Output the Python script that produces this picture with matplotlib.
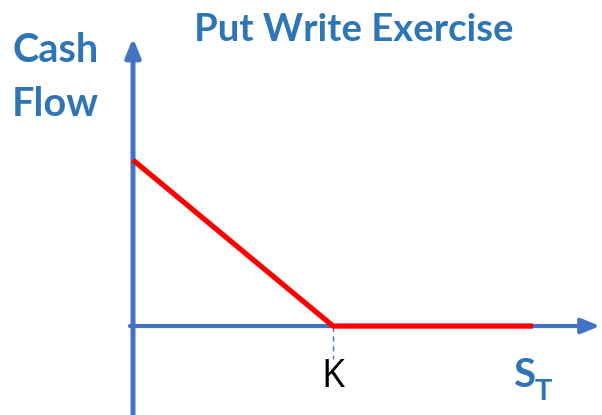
import matplotlib.pyplot as plt

# payoff diagram data (strike K = 100)
strike = 100
s_vals = [0, 100, 200]
cash_vals = [100, 0, 0]

blue = "#4472C4"
text_blue = "#2E75B6"

fig = plt.figure(figsize=(6.02, 4.15), dpi=100)
ax = fig.add_axes([0, 0, 1, 1])
ax.set_xlim(-66.5, 234.5)
ax.set_ylim(-53.6, 196.4)
ax.axis("off")

# axes arrows
ax.annotate("", xy=(0, 173.5), xytext=(0, -53.6),
            arrowprops=dict(arrowstyle="-|>,head_length=1.1,head_width=0.45",
                            color=blue, lw=3.6, shrinkA=0, shrinkB=0))
ax.annotate("", xy=(233.5, 0), xytext=(-1.5, 0),
            arrowprops=dict(arrowstyle="-|>,head_length=1.1,head_width=0.45",
                            color=blue, lw=3.0, shrinkA=0, shrinkB=0))

# payoff line
ax.plot(s_vals, cash_vals, color="#FF0000", lw=3.8, solid_capstyle="butt", zorder=3)

# strike marker
ax.plot([strike, strike], [0, -20], color=blue, lw=1, ls=(0, (4, 3)))
ax.text(strike, -31, "K", ha="center", va="center", fontsize=27,
        family="Open Sans", color="black")

# S_T label
ax.text(195.5, -30, "S", ha="center", va="center", fontsize=29,
        fontweight="bold", family="Lato", color=text_blue)
ax.text(205, -39.5, "T", ha="center", va="center", fontsize=21,
        fontweight="bold", family="Lato", color=text_blue)

fig.text(354 / 602, 1 - 30 / 415, "Put Write Exercise", ha="center", va="center",
         fontsize=27.5, fontweight="bold", family="Lato", color=text_blue)
fig.text(12 / 602, 1 - 50 / 415, "Cash", ha="left", va="center",
         fontsize=28.5, fontweight="bold", family="Lato", color=text_blue)
fig.text(12 / 602, 1 - 104 / 415, "Flow", ha="left", va="center",
         fontsize=28.5, fontweight="bold", family="Lato", color=text_blue)

fig.savefig("out.png", dpi=100)
